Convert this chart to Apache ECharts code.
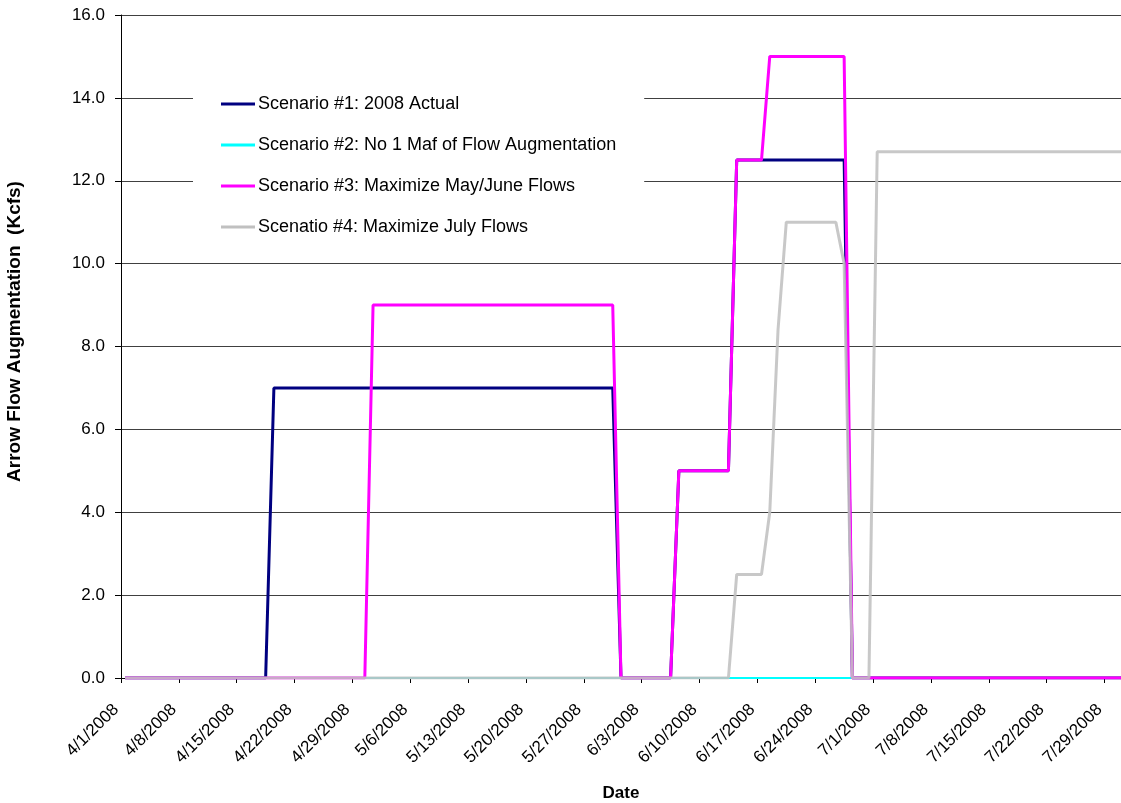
<!DOCTYPE html>
<html>
<head>
<meta charset="utf-8">
<script src="https://cdn.jsdelivr.net/npm/echarts@6/dist/echarts.min.js"></script>
<style>html,body{margin:0;padding:0;background:#fff;}#c{width:1121px;height:803px;}</style>
</head>
<body>
<div id="c"></div>
<script>
// Breakpoints of each daily series (value stays linear between listed days)
const seriesNames = [
  'Scenario #1: 2008 Actual',
  'Scenario #2: No 1 Maf of Flow Augmentation',
  'Scenario #3: Maximize May/June Flows',
  'Scenatio #4: Maximize July Flows'
];
const s1Dates  = ['4/1','4/18','4/19','5/30','5/31','6/6','6/7','6/13','6/14','6/27','6/28','7/31'];
const s1Values = [0, 0, 7, 7, 0, 0, 5, 5, 12.5, 12.5, 0, 0];
const s2Dates  = ['4/1','7/31'];
const s2Values = [0, 0];
const s3Dates  = ['4/1','4/30','5/1','5/30','5/31','6/6','6/7','6/13','6/14','6/17','6/18','6/27','6/28','7/31'];
const s3Values = [0, 0, 9, 9, 0, 0, 5, 5, 12.5, 12.5, 15, 15, 0, 0];
const s4Dates  = ['4/1','6/13','6/14','6/17','6/18','6/19','6/20','6/26','6/27','6/28','6/30','7/1','7/31'];
const s4Values = [0, 0, 2.5, 2.5, 4, 8.4, 11, 11, 10, 0, 0, 12.7, 12.7];
const xTickLabels = ['4/1/2008','4/8/2008','4/15/2008','4/22/2008','4/29/2008','5/6/2008','5/13/2008','5/20/2008','5/27/2008','6/3/2008','6/10/2008','6/17/2008','6/24/2008','7/1/2008','7/8/2008','7/15/2008','7/22/2008','7/29/2008'];
const yTicks = [0, 2, 4, 6, 8, 10, 12, 14, 16];

const base = Date.UTC(2008, 3, 1);
function dayIdx(s) {
  const p = s.split('/').map(Number);
  return Math.round((Date.UTC(2008, p[0] - 1, p[1]) - base) / 86400000);
}
// each day occupies one slot; the point sits in the middle of its slot
function pts(dates, vals) { return dates.map((d, i) => [dayIdx(d) + 0.5, vals[i]]); }
const tickPos = xTickLabels.map(dayIdx);
const labelMap = {};
xTickLabels.forEach((l, i) => { labelMap[tickPos[i]] = l; });

const colors = ['#000080', '#00FFFF', '#FF00FF', '#C0C0C0'];
const widths = [3, 2, 3, 3];
const data = [pts(s1Dates, s1Values), pts(s2Dates, s2Values), pts(s3Dates, s3Values), pts(s4Dates, s4Values)];

const chart = echarts.init(document.getElementById('c'), null, {renderer: 'canvas'});
chart.setOption({
  animation: false,
  backgroundColor: '#fff',
  textStyle: {fontFamily: 'Liberation Sans, Arial, sans-serif'},
  grid: {left: 121, top: 15, right: 0, bottom: 125, containLabel: false, outerBoundsMode: 'none'},
  legend: {
    data: seriesNames.map((n, i) => ({name: n, icon: 'rect', itemStyle: {color: colors[i]}})),
    orient: 'vertical',
    left: 193, top: 85,
    padding: [10, 28, 10, 28],
    backgroundColor: '#fff',
    itemWidth: 34, itemHeight: 3, itemGap: 23,
    textStyle: {fontSize: 18, color: '#000', fontFamily: 'Liberation Sans, Arial, sans-serif', padding: [0, 0, 0, -2]},
    selectedMode: false
  },
  xAxis: {
    type: 'value', min: 0, max: 121,
    name: 'Date', nameLocation: 'middle', nameGap: 107,
    nameTextStyle: {fontSize: 17, fontWeight: 'bold', color: '#000'},
    axisLine: {show: true, onZero: false, lineStyle: {color: '#000', width: 1}},
    axisTick: {show: true, length: 5, lineStyle: {color: '#000'}, customValues: tickPos},
    axisLabel: {show: true, rotate: 45, fontSize: 17, color: '#000', margin: 24,
      padding: [0, 7, 0, 0],
      customValues: tickPos,
      formatter: v => labelMap[Math.round(v)] || ''},
    splitLine: {show: false}
  },
  yAxis: {
    type: 'value', min: 0, max: 16, interval: 2,
    name: 'Arrow Flow Augmentation  (Kcfs)', nameLocation: 'middle', nameGap: 97,
    nameTextStyle: {fontSize: 19, fontWeight: 'bold', color: '#000', padding: [0, 0, 0, 30]},
    axisLine: {show: true, lineStyle: {color: '#000', width: 1}},
    axisTick: {show: true, length: 6, lineStyle: {color: '#000'}},
    axisLabel: {fontSize: 17, color: '#000', margin: 16, formatter: v => v.toFixed(1)},
    splitLine: {show: true, lineStyle: {color: '#404040', width: 1}}
  },
  series: data.map((d, i) => ({
    name: seriesNames[i], type: 'line', data: d,
    showSymbol: false, symbol: 'none', clip: true,
    lineStyle: {color: colors[i], width: widths[i], opacity: i === 3 ? 0.88 : 1},
    itemStyle: {color: colors[i]},
    z: 2 + i
  }))
});
</script>
</body>
</html>
